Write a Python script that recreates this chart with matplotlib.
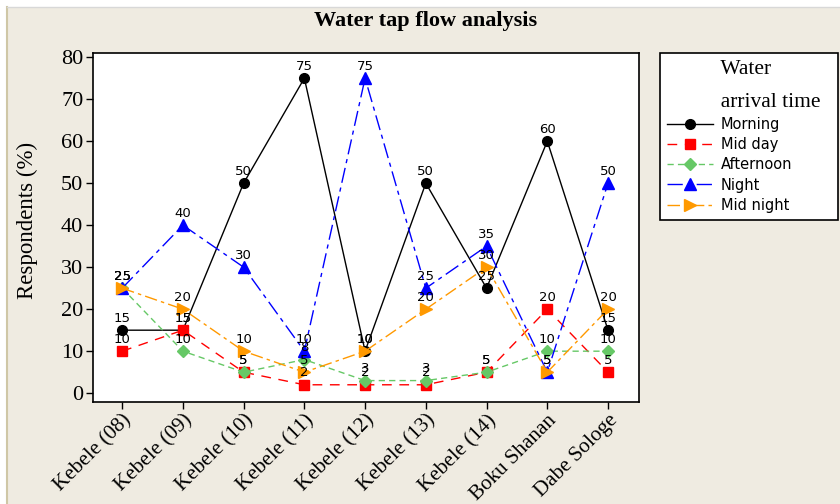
import matplotlib
matplotlib.use("Agg")
import matplotlib.pyplot as plt
from matplotlib.lines import Line2D
from matplotlib.patches import Rectangle

categories = ["Kebele (08)", "Kebele (09)", "Kebele (10)", "Kebele (11)", "Kebele (12)",
              "Kebele (13)", "Kebele (14)", "Boku Shanan", "Dabe Sologe"]
morning = [15, 15, 50, 75, 10, 50, 25, 60, 15]
mid_day = [10, 15, 5, 2, 2, 2, 5, 20, 5]
afternoon = [25, 10, 5, 8, 3, 3, 5, 10, 10]
night = [25, 40, 30, 10, 75, 25, 35, 5, 50]
mid_night = [25, 20, 10, 5, 10, 20, 30, 5, 20]
y_ticks = [0, 10, 20, 30, 40, 50, 60, 70, 80]

W, H = 840, 504
SERIF = "Liberation Serif"
SANS = "DejaVu Sans"

fig = plt.figure(figsize=(W / 100, H / 100), dpi=100, facecolor="white")

# beige panel behind everything
bg = Rectangle((7 / W, 0), 1 - 7 / W, 1 - 7 / H, transform=fig.transFigure,
               facecolor="#EFEBE1", edgecolor="none", zorder=-10)
fig.patches.append(bg)
fig.add_artist(Line2D([7 / W, 7 / W], [0, 1 - 7 / H], transform=fig.transFigure,
                      color="#CFC7A6", lw=1.5, zorder=-9))
fig.add_artist(Line2D([7 / W, 1], [1 - 7 / H, 1 - 7 / H], transform=fig.transFigure,
                      color="#D8D8D8", lw=1, zorder=-9))

ax = fig.add_axes([93 / W, 1 - 402 / H, (639 - 93) / W, (402 - 53) / H])
ax.set_facecolor("white")

x = list(range(len(categories)))
series = [
    ("Morning", morning, "black", "o", 7, "-"),
    ("Mid day", mid_day, "#FF0000", "s", 6.5, (0, (7, 5.5))),
    ("Afternoon", afternoon, "#66C866", "D", 6.5, (0, (4.5, 3))),
    ("Night", night, "#0000FF", "^", 8, (0, (11, 3.5, 3, 3.5))),
    ("Mid night", mid_night, "#FF9900", ">", 8, (0, (9, 3, 2.5, 3))),
]

handles = []
for name, vals, col, mk, ms, ls in series:
    h, = ax.plot(x, vals, color=col, marker=mk, markersize=ms, linestyle=ls,
                 linewidth=1, markeredgecolor=col, label=name)
    handles.append(h)
    for xi, v in zip(x, vals):
        ax.annotate(str(v), (xi, v), xytext=(0, 6), textcoords="offset points",
                    ha="center", va="baseline", fontsize=9.5, family=SANS,
                    color="black")

ax.set_xlim(-0.48, 8.51)
ax.set_ylim(-2.1, 81)
ax.set_yticks(y_ticks)
ax.set_xticks(x)
ax.set_xticklabels(categories, rotation=45, ha="right", rotation_mode="anchor",
                   family=SERIF, fontsize=15.2)
for lab in ax.get_yticklabels():
    lab.set_family(SERIF)
    lab.set_fontsize(16)
ax.tick_params(axis="both", direction="out", length=5, width=1, color="black")
ax.tick_params(axis="x", pad=1.5)
ax.tick_params(axis="y", pad=2)
for sp in ax.spines.values():
    sp.set_linewidth(1.2)
    sp.set_color("black")

ax.set_ylabel("Respondents (%)", family=SERIF, fontsize=16.5)
ax.yaxis.set_label_coords(-0.101, 0.52)

fig.text(426 / W, 1 - 21 / H, "Water tap flow analysis", ha="center", va="center",
         family=SERIF, fontweight="bold", fontsize=16)

pad = " " * 10
leg = fig.legend(handles=handles, loc="upper left",
                 bbox_to_anchor=(660 / W, 1 - 53 / H, 178 / W, 0.0), mode="expand",
                 title=f"{pad}Water\n{pad}arrival time",
                 title_fontproperties={"family": SERIF, "size": 15.5},
                 prop={"family": SANS, "size": 10.5},
                 frameon=True, fancybox=False, edgecolor="black", framealpha=1,
                 handlelength=3.1, handletextpad=0.55, labelspacing=0.36,
                 borderpad=0.5, borderaxespad=0)
leg.set_alignment("left")
leg.get_title().set_linespacing(1.95)
leg.get_frame().set_linewidth(1.2)

fig.savefig("out.png", dpi=100, facecolor=fig.get_facecolor())
